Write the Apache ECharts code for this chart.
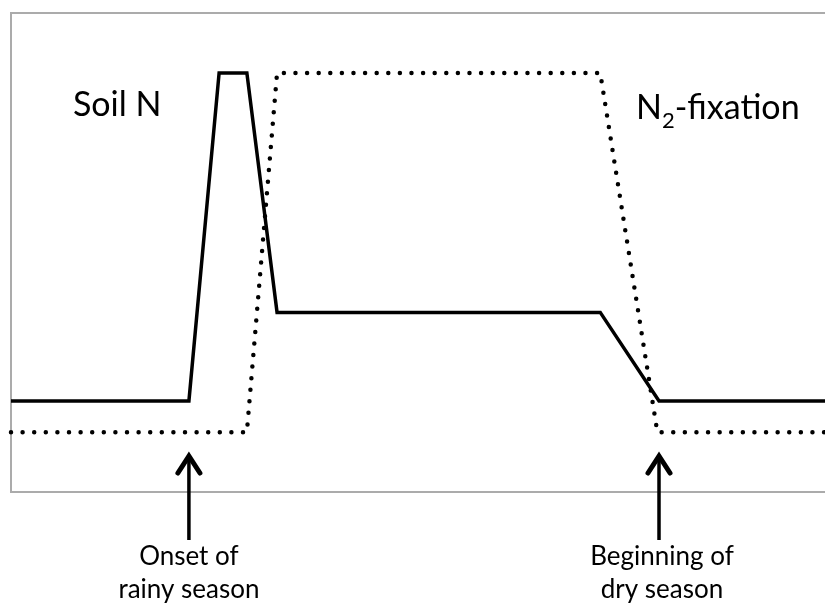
<!DOCTYPE html>
<html>
<head>
<meta charset="utf-8">
<script src="https://cdn.jsdelivr.net/npm/echarts@6/dist/echarts.min.js"></script>
<style>
  html, body { margin: 0; padding: 0; background: #fff; overflow: hidden; }
  #chart { width: 825px; height: 611px; }
</style>
</head>
<body>
<div id="chart"></div>
<script>
// Seasonal time axis (arbitrary units across one year)
const soilNTime   = [0, 21.8, 25.5, 28.9, 32.6, 72.2, 79.4, 100];
const soilNLevel  = [19, 19, 87.5, 87.5, 37.5, 37.5, 19, 19];

const fixTime     = [0, 28.9, 32.6, 72.2, 79.2, 100];
const fixLevel    = [12.5, 12.5, 87.5, 87.5, 12.5, 12.5];

// Season markers (time positions of the arrows) and their captions
const seasonTimes  = [21.8, 79.4];
const seasonLabels = [['Onset of', 'rainy season'], ['Beginning of', 'dry season']];

const FONT = 'Lato, "Open Sans", sans-serif';

const chart = echarts.init(document.getElementById('chart'), null, { renderer: 'canvas', width: 825, height: 611 });

const zip = (xs, ys) => xs.map((x, i) => [x, ys[i]]);

chart.setOption({
  animation: false,
  backgroundColor: '#fff',
  grid: {
    show: true,
    outerBoundsMode: 'none',
    left: 11, top: 13, width: 830, height: 479,
    borderColor: '#ababab', borderWidth: 2,
    backgroundColor: 'transparent'
  },
  xAxis: {
    type: 'value', min: 0, max: 101.7,
    axisLine: { show: false }, axisTick: { show: false },
    axisLabel: { show: false }, splitLine: { show: false }
  },
  yAxis: {
    type: 'value', min: 0, max: 100,
    axisLine: { show: false }, axisTick: { show: false },
    axisLabel: { show: false }, splitLine: { show: false }
  },
  series: [
    {
      name: 'N2-fixation', type: 'line', data: zip(fixTime, fixLevel),
      symbol: 'none', clip: false,
      lineStyle: { color: '#000', width: 4.5, type: [0, 11.6], cap: 'round' }
    },
    {
      name: 'Soil N', type: 'line', data: zip(soilNTime, soilNLevel),
      symbol: 'none', clip: false,
      lineStyle: { color: '#000', width: 3.5, join: 'miter' }
    }
  ]
});

// Measure text widths for the subscripted label
const ctx = document.createElement('canvas').getContext('2d');
function textWidth(str, size) {
  ctx.font = size + 'px ' + FONT;
  return ctx.measureText(str).width;
}

const gridBottom = chart.convertToPixel({ gridIndex: 0 }, [0, 0])[1];
const elements = [];

seasonTimes.forEach((t, i) => {
  const x = chart.convertToPixel({ gridIndex: 0 }, [t, 0])[0];
  const tip = gridBottom - 39;
  elements.push({
    type: 'line', z: 10,
    shape: { x1: x, y1: tip + 2, x2: x, y2: tip + 87 },
    style: { stroke: '#000', lineWidth: 3.5 }
  });
  elements.push({
    type: 'polyline', z: 10,
    shape: { points: [[x - 11, tip + 20], [x, tip + 3], [x + 11, tip + 20]] },
    style: { stroke: '#000', lineWidth: 5, fill: null, lineJoin: 'miter', lineCap: 'round' }
  });
  seasonLabels[i].forEach((line, j) => {
    elements.push({
      type: 'text', z: 10,
      x: x + (i === 1 ? 3 : 0), y: gridBottom + 65 + j * 33,
      style: {
        text: line, font: '26px ' + FONT, fill: '#000',
        align: 'center', verticalAlign: 'middle'
      }
    });
  });
});

// Series captions
elements.push({
  type: 'text', z: 10, x: 73, y: 105,
  style: { text: 'Soil N', font: '34px ' + FONT, fill: '#000', align: 'left', verticalAlign: 'middle' }
});
(function () {
  let x = 636;
  const y = 108;
  elements.push({ type: 'text', z: 10, x: x, y: y,
    style: { text: 'N', font: '34px ' + FONT, fill: '#000', align: 'left', verticalAlign: 'middle' } });
  x += textWidth('N', 34);
  elements.push({ type: 'text', z: 10, x: x, y: y + 13,
    style: { text: '2', font: '22px ' + FONT, fill: '#000', align: 'left', verticalAlign: 'middle' } });
  x += textWidth('2', 22);
  elements.push({ type: 'text', z: 10, x: x, y: y,
    style: { text: '-fixation', font: '34px ' + FONT, fill: '#000', align: 'left', verticalAlign: 'middle' } });
})();

chart.setOption({ graphic: { elements: elements } });
</script>
</body>
</html>
